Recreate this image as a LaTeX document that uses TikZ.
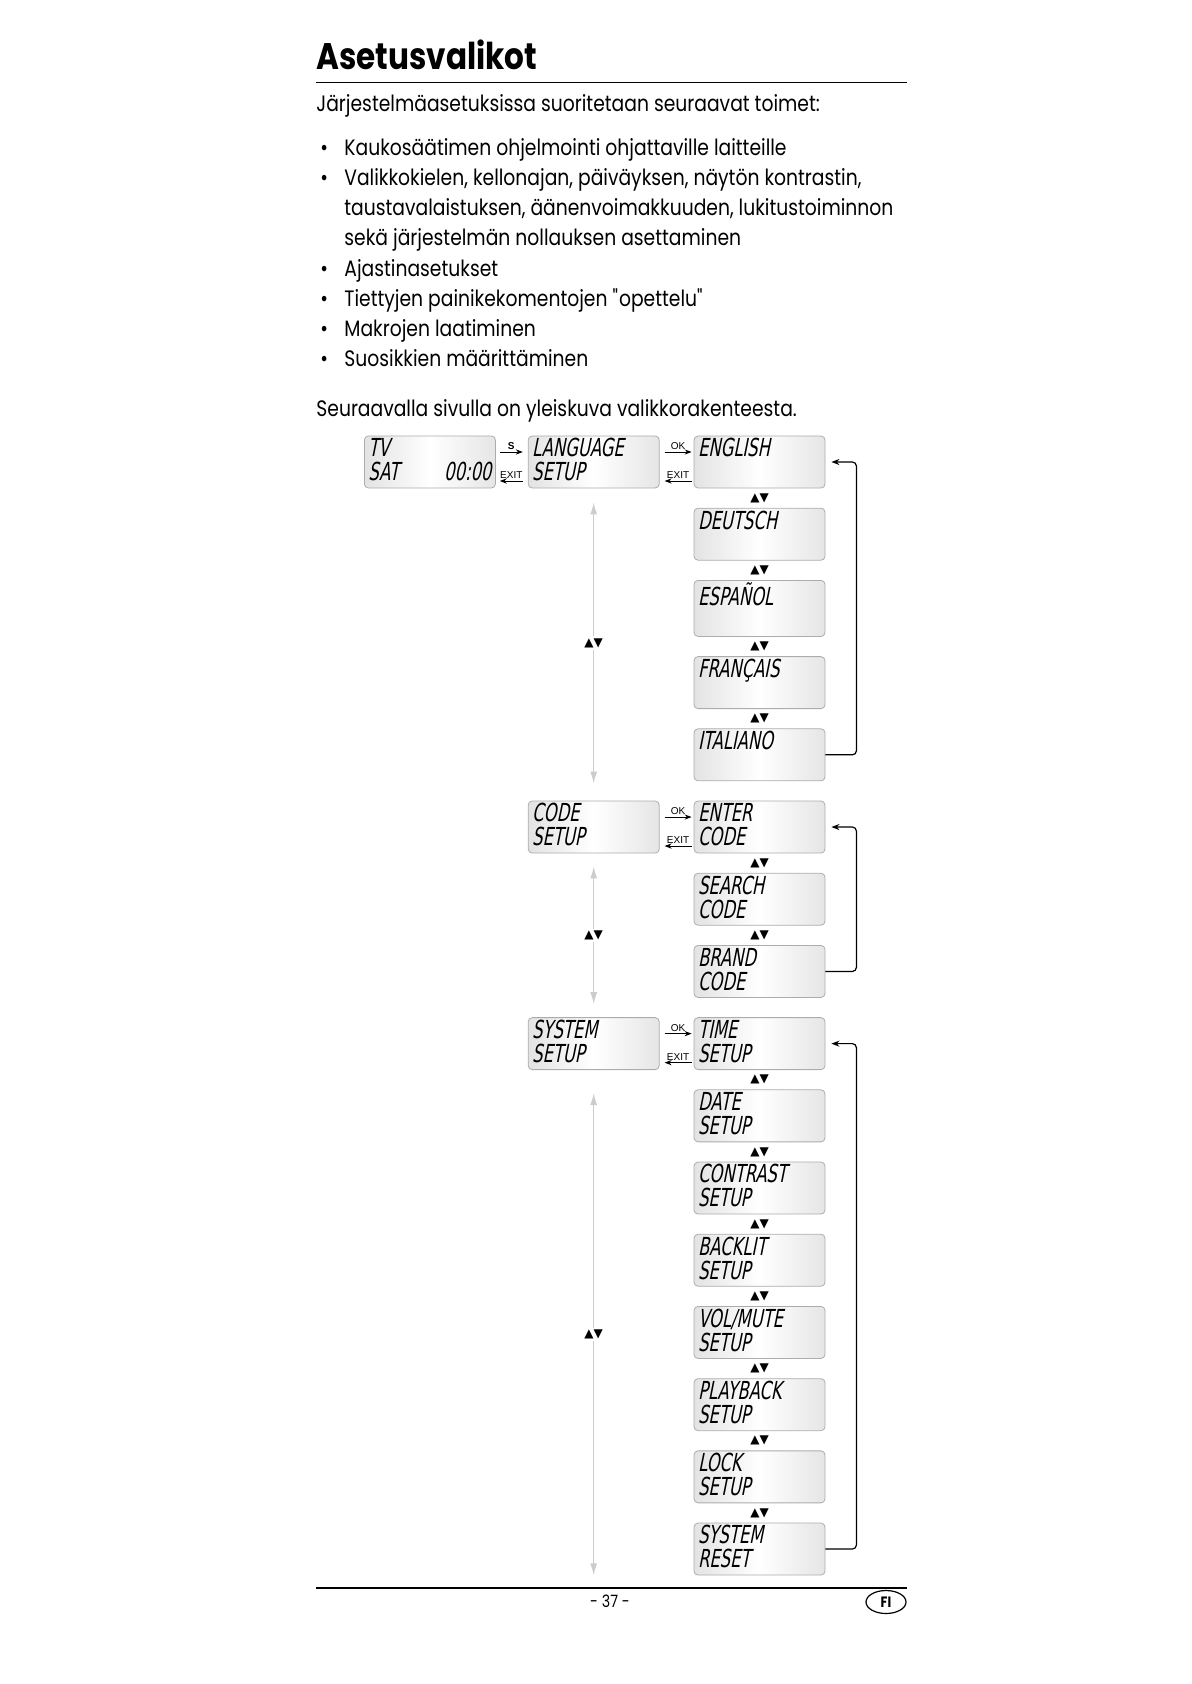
\documentclass[tikz,border=0pt]{standalone}
\usepackage{fontspec}
\setmainfont[FakeStretch=0.84]{Poppins}
\newfontfamily\lcdfont[FakeSlant=0.2,FakeStretch=0.66]{DejaVu Sans}
\newfontfamily\symfont{DejaVu Sans}
\newfontfamily\labfont{Liberation Sans}
\usepackage{tikz}
\usetikzlibrary{arrows.meta,positioning,shapes.geometric}
\newcommand{\lcdstrut}{\rule[-2.6pt]{0pt}{12pt}}
\newcommand{\updown}{{\symfont\fontsize{6}{6}\selectfont ▲▼}}

\begin{document}
\begin{tikzpicture}[>=Stealth,node distance=9.7pt and 17pt]
  \tikzstyle{lcd}=[draw=gray!65,line width=0.4pt,rounded corners=2pt,left color=gray!22,right color=gray!20,middle color=white,text width=61.5pt,inner xsep=2pt,inner ysep=1pt,minimum height=26pt,align=left,font=\lcdfont\fontsize{12.4}{12}\selectfont]
  \tikzstyle{keyarrow}=[-{Stealth[length=3.5pt,width=2.6pt]},line width=0.5pt]
  \tikzstyle{key}=[above,inner sep=0.8pt,font=\labfont\fontsize{5}{5}\selectfont]
  \tikzstyle{scroll}=[{Latex[length=6pt,width=3.5pt]}-{Latex[length=6pt,width=3.5pt]},draw=gray!40,line width=0.7pt]
  \tikzstyle{ud}=[inner sep=1pt]
  \tikzstyle{back}=[-{Stealth[length=4pt,width=3pt]},line width=0.6pt,rounded corners=2pt]
  \tikzstyle{body}=[anchor=base west,inner sep=0,font=\fontsize{11.15}{15.1}\selectfont]
  \useasboundingbox (0,0) rectangle (595.5pt,-842pt);

  % heading and list
  \node[anchor=base west,inner sep=0,font=\bfseries\fontsize{18.5}{20}\selectfont] (title) at (158pt,-34.8pt) {Asetusvalikot};
  \draw[line width=0.9pt] (158pt,-41.3pt) -- (453.5pt,-41.3pt);
  \node[body] (intro) at (158pt,-56pt) {Järjestelmäasetuksissa suoritetaan seuraavat toimet:};
  \node[body] (item1) at (172pt,-77.7pt) {Kaukosäätimen ohjelmointi ohjattaville laitteille};
  \node[body] (item2) at (172pt,-92.8pt) {Valikkokielen, kellonajan, päiväyksen, näytön kontrastin,};
  \node[body] (item2b) at (172pt,-107.9pt) {taustavalaistuksen, äänenvoimakkuuden, lukitustoiminnon};
  \node[body] (item2c) at (172pt,-123pt) {sekä järjestelmän nollauksen asettaminen};
  \node[body] (item3) at (172pt,-138.1pt) {Ajastinasetukset};
  \node[body] (item4) at (172pt,-153.2pt) {Tiettyjen painikekomentojen \textquotedbl opettelu\textquotedbl};
  \node[body] (item5) at (172pt,-168.3pt) {Makrojen laatiminen};
  \node[body] (item6) at (172pt,-183.4pt) {Suosikkien määrittäminen};
  \foreach \i in {0,1,4,5,6,7}
    \node[body] at (160pt,-77.7pt-\i*15.1pt) {•};
  \node[body] (next) at (158pt,-208pt) {Seuraavalla sivulla on yleiskuva valikkorakenteesta.};

  % language menu
  \node[lcd] (eng) at (379.75pt,-231pt) {\lcdstrut ENGLISH\\\lcdstrut};
  \node[lcd,below=of eng] (deu) {\lcdstrut DEUTSCH\\\lcdstrut};
  \node[lcd,below=of deu] (esp) {\lcdstrut ESPAÑOL\\\lcdstrut};
  \node[lcd,below=of esp] (fra) {\lcdstrut FRANÇAIS\\\lcdstrut};
  \node[lcd,below=of fra] (ita) {\lcdstrut ITALIANO\\\lcdstrut};
  \node[lcd,left=of eng] (lang) {\lcdstrut LANGUAGE\\\lcdstrut SETUP};
  \node[lcd,left=16pt of lang] (tv) {\lcdstrut TV\\\lcdstrut SAT\hfill 00:00};

  % code menu
  \node[lcd,below=of ita] (enter) {\lcdstrut ENTER\\\lcdstrut CODE};
  \node[lcd,below=of enter] (search) {\lcdstrut SEARCH\\\lcdstrut CODE};
  \node[lcd,below=of search] (brand) {\lcdstrut BRAND\\\lcdstrut CODE};
  \node[lcd,left=of enter] (code) {\lcdstrut CODE\\\lcdstrut SETUP};

  % system menu
  \node[lcd,below=of brand] (time) {\lcdstrut TIME\\\lcdstrut SETUP};
  \node[lcd,below=of time] (date) {\lcdstrut DATE\\\lcdstrut SETUP};
  \node[lcd,below=of date] (contr) {\lcdstrut CONTRAST\\\lcdstrut SETUP};
  \node[lcd,below=of contr] (backl) {\lcdstrut BACKLIT\\\lcdstrut SETUP};
  \node[lcd,below=of backl] (vol) {\lcdstrut VOL/MUTE\\\lcdstrut SETUP};
  \node[lcd,below=of vol] (play) {\lcdstrut PLAYBACK\\\lcdstrut SETUP};
  \node[lcd,below=of play] (lock) {\lcdstrut LOCK\\\lcdstrut SETUP};
  \node[lcd,below=of lock] (reset) {\lcdstrut SYSTEM\\\lcdstrut RESET};
  \node[lcd,left=of time] (sys) {\lcdstrut SYSTEM\\\lcdstrut SETUP};

  % keys between columns
  \draw[keyarrow] ([shift={(2pt,5pt)}]tv.east) -- node[key,font=\labfont\bfseries\fontsize{5}{5}\selectfont]{S} ([shift={(-2.5pt,5pt)}]lang.west);
  \draw[keyarrow] ([shift={(-2.5pt,-9.5pt)}]lang.west) -- node[key]{EXIT} ([shift={(2pt,-9.5pt)}]tv.east);
  \foreach \a/\b in {lang/eng,code/enter,sys/time} {
    \draw[keyarrow] ([shift={(2.5pt,5pt)}]\a.east) -- node[key]{OK} ([shift={(-1pt,5pt)}]\b.west);
    \draw[keyarrow] ([shift={(-1pt,-9.5pt)}]\b.west) -- node[key]{EXIT} ([shift={(2.5pt,-9.5pt)}]\a.east);
  }

  % scrolling
  \foreach \a/\b in {eng/deu,deu/esp,esp/fra,fra/ita,enter/search,search/brand,time/date,date/contr,contr/backl,backl/vol,vol/play,play/lock,lock/reset}
    \path (\a) -- node[ud]{\updown} (\b);
  \draw[scroll] ([yshift=-7pt]lang.south) -- node[ud,fill=white]{\updown} ([yshift=8.5pt]code.north);
  \draw[scroll] ([yshift=-6.5pt]code.south) -- node[ud,fill=white]{\updown} ([yshift=6.5pt]sys.north);
  \draw[scroll] ([yshift=-11.5pt]sys.south) -- node[ud,fill=white]{\updown} (sys.south |- reset.south);

  % back to first entry
  \draw[back] (ita.east) -- ++(15.5pt,0) |- ([xshift=3pt]eng.east);
  \draw[back] (brand.east) -- ++(15.5pt,0) |- ([xshift=3pt]enter.east);
  \draw[back] (reset.east) -- ++(15.5pt,0) |- ([xshift=3pt]time.east);

  % footer
  \draw[line width=0.6pt] (158pt,-794pt) -- (453.5pt,-794pt);
  \node[font=\fontsize{8.5}{9}\selectfont] (page) at (305pt,-800.5pt) {- 37 -};
  \node[draw,ellipse,line width=0.6pt,minimum width=20pt,minimum height=11.5pt,inner sep=0.5pt,font=\bfseries\fontsize{7.5}{8}\selectfont] (lang-fi) at (443pt,-801pt) {FI};
\end{tikzpicture}
\end{document}
